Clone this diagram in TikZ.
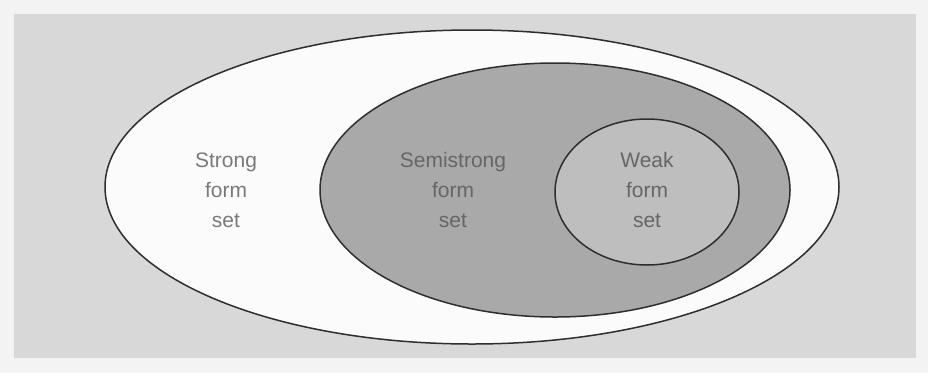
\documentclass[tikz,border=0pt]{standalone}
\usepackage{fontspec}
\setmainfont{Liberation Sans}
\definecolor{setPaper}{HTML}{F3F3F3}
\definecolor{setBack}{HTML}{D8D8D8}
\definecolor{setStrong}{HTML}{FBFBFB}
\definecolor{setSemi}{HTML}{A9A9A9}
\definecolor{setWeak}{HTML}{BEBEBE}
\definecolor{setInk}{HTML}{2E2E2E}
\definecolor{setText}{HTML}{7A7A7A}
\definecolor{setTextDark}{HTML}{666666}
\begin{document}
\begin{tikzpicture}[
    x=1pt, y=-1pt,
    set edge/.style={draw=setInk, line width=1.5pt},
    set name/.style={align=center, font=\fontsize{21}{30}\selectfont, inner sep=1pt},
]
  \useasboundingbox (0,0) rectangle (928,373);

  % Fundo.
  \fill[setPaper] (0,0) rectangle (928,373);
  \fill[setBack] (14,14) rectangle (916,358);

  % Centros dos conjuntos.
  \coordinate (c-strong) at (472,187);
  \coordinate (c-semi) at (555,190);
  \coordinate (c-weak) at (647,192);

  % Conjuntos.
  \draw[set edge, fill=setStrong] (c-strong) ellipse[x radius=367, y radius=157];
  \draw[set edge, fill=setSemi] (c-semi) ellipse[x radius=235, y radius=127];
  \draw[set edge, fill=setWeak] (c-weak) ellipse[x radius=92, y radius=73];

  % Rótulos.
  \node[set name, text=setText] (strong) at (226,190) {Strong\\form\\set};
  \node[set name, text=setTextDark] (semi) at (453,190) {Semistrong\\form\\set};
  \node[set name, text=setTextDark] (weak) at (647,190) {Weak\\form\\set};
\end{tikzpicture}
\end{document}
